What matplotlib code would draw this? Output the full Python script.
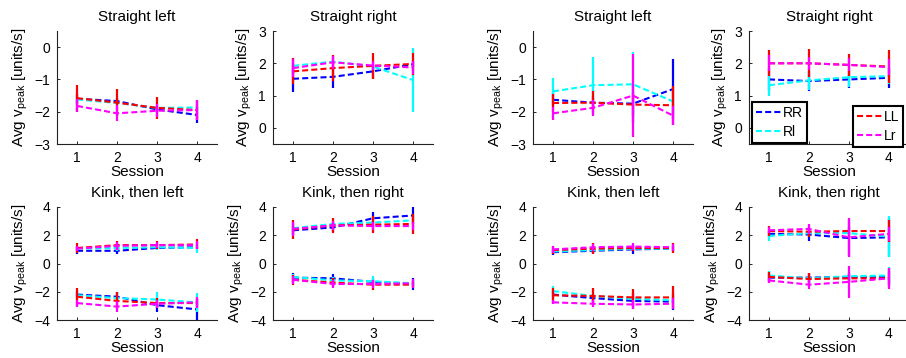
import matplotlib
matplotlib.use("Agg")
import matplotlib.pyplot as plt

plt.rcParams["font.family"] = ["Liberation Sans", "DejaVu Sans"]
plt.rcParams["mathtext.fontset"] = "custom"
plt.rcParams["mathtext.rm"] = "Liberation Sans"
plt.rcParams["mathtext.it"] = "Liberation Sans"

sessions = [1, 2, 3, 4]
series_names = ["RR", "Rl", "LL", "Lr"]
series_colors = ["#0000ff", "#00ffff", "#ff0000", "#ff00ff"]

# ---- group A (left half) ----
a_straight_left_mean = [[-1.60, -1.67, -1.93, -2.10],
                        [-1.62, -1.73, -1.88, -1.87],
                        [-1.58, -1.72, -1.88, -1.95],
                        [-1.82, -2.05, -1.97, -1.95]]
a_straight_left_err = [[0.15, 0.10, 0.10, 0.25],
                       [0.10, 0.10, 0.10, 0.10],
                       [0.42, 0.42, 0.35, 0.30],
                       [0.20, 0.25, 0.20, 0.30]]

a_straight_right_mean = [[1.52, 1.58, 1.75, 1.97],
                         [1.92, 2.05, 1.90, 1.48],
                         [1.75, 1.85, 1.92, 1.98],
                         [1.85, 2.03, 1.93, 1.87]]
a_straight_right_err = [[0.42, 0.36, 0.20, 0.10],
                        [0.25, 0.20, 0.15, 1.00],
                        [0.40, 0.40, 0.40, 0.33],
                        [0.28, 0.20, 0.15, 0.20]]

a_kink_left_up_mean = [[0.90, 0.90, 1.10, 1.15],
                       [1.05, 1.10, 1.15, 1.10],
                       [1.10, 1.30, 1.30, 1.35],
                       [1.05, 1.25, 1.30, 1.30]]
a_kink_left_up_err = [[0.25, 0.25, 0.10, 0.15],
                      [0.20, 0.20, 0.20, 0.35],
                      [0.35, 0.30, 0.30, 0.35],
                      [0.20, 0.30, 0.20, 0.30]]
a_kink_left_low_mean = [[-2.20, -2.35, -2.95, -3.25],
                        [-2.25, -2.45, -2.55, -2.75],
                        [-2.35, -2.65, -2.80, -2.80],
                        [-2.80, -3.05, -2.85, -2.75]]
a_kink_left_low_err = [[0.20, 0.30, 0.50, 0.75],
                       [0.30, 0.40, 0.50, 0.65],
                       [0.65, 0.60, 0.35, 0.30],
                       [0.25, 0.40, 0.30, 0.40]]

a_kink_right_up_mean = [[2.35, 2.55, 3.20, 3.40],
                        [2.50, 2.80, 2.90, 3.05],
                        [2.40, 2.70, 2.75, 2.80],
                        [2.45, 2.70, 2.65, 2.65]]
a_kink_right_up_err = [[0.30, 0.30, 0.45, 0.60],
                       [0.30, 0.25, 0.30, 0.30],
                       [0.65, 0.55, 0.60, 0.70],
                       [0.50, 0.30, 0.30, 0.30]]
a_kink_right_low_mean = [[-1.00, -1.05, -1.30, -1.45],
                         [-0.95, -1.20, -1.25, -1.40],
                         [-1.15, -1.35, -1.50, -1.50],
                         [-1.15, -1.45, -1.45, -1.40]]
a_kink_right_low_err = [[0.30, 0.30, 0.30, 0.40],
                        [0.20, 0.25, 0.35, 0.20],
                        [0.35, 0.30, 0.35, 0.20],
                        [0.30, 0.30, 0.30, 0.30]]

# ---- group B (right half) ----
b_straight_left_mean = [[-1.63, -1.72, -1.75, -1.30],
                        [-1.37, -1.18, -1.15, -1.68],
                        [-1.73, -1.72, -1.78, -1.80],
                        [-2.05, -1.88, -1.50, -2.12]]
b_straight_left_err = [[0.20, 0.20, 0.60, 0.92],
                       [0.42, 0.88, 1.00, 0.40],
                       [0.28, 0.35, 0.35, 0.60],
                       [0.20, 0.25, 1.28, 0.30]]

b_straight_right_mean = [[1.50, 1.45, 1.50, 1.55],
                         [1.32, 1.47, 1.57, 1.60],
                         [2.00, 2.00, 1.95, 1.90],
                         [2.00, 2.00, 1.95, 1.88]]
b_straight_right_err = [[0.35, 0.30, 0.28, 0.30],
                        [0.33, 0.30, 0.30, 0.25],
                        [0.40, 0.43, 0.33, 0.50],
                        [0.25, 0.20, 0.20, 0.25]]

b_kink_left_up_mean = [[0.80, 0.90, 1.00, 1.05],
                       [0.85, 0.95, 1.05, 1.05],
                       [0.95, 1.05, 1.10, 1.10],
                       [1.00, 1.15, 1.20, 1.15]]
b_kink_left_up_err = [[0.20, 0.20, 0.30, 0.20],
                      [0.20, 0.20, 0.20, 0.20],
                      [0.30, 0.40, 0.20, 0.35],
                      [0.25, 0.25, 0.25, 0.25]]
b_kink_left_low_mean = [[-2.20, -2.45, -2.65, -2.70],
                        [-1.95, -2.30, -2.50, -2.60],
                        [-2.25, -2.30, -2.40, -2.40],
                        [-2.75, -2.85, -2.90, -2.85]]
b_kink_left_low_err = [[0.30, 0.30, 0.55, 0.60],
                       [0.35, 0.30, 0.30, 0.30],
                       [0.55, 0.55, 0.60, 0.80],
                       [0.15, 0.25, 0.30, 0.40]]

b_kink_right_up_mean = [[2.10, 2.05, 1.80, 1.85],
                        [1.95, 2.15, 2.15, 1.90],
                        [2.30, 2.25, 2.30, 2.30],
                        [2.35, 2.45, 1.85, 2.10]]
b_kink_right_up_err = [[0.20, 0.45, 1.30, 1.40],
                       [0.35, 0.30, 0.35, 1.45],
                       [0.35, 0.35, 0.30, 0.80],
                       [0.20, 0.35, 1.40, 0.50]]
b_kink_right_low_mean = [[-1.00, -1.00, -0.95, -0.95],
                         [-0.85, -1.05, -0.90, -0.85],
                         [-0.95, -1.10, -1.05, -1.05],
                         [-1.20, -1.50, -1.30, -1.05]]
b_kink_right_low_err = [[0.30, 0.35, 0.30, 0.65],
                        [0.30, 0.30, 0.30, 0.60],
                        [0.35, 0.45, 0.30, 0.50],
                        [0.20, 0.30, 1.15, 0.75]]

titles = ["Straight left", "Straight right", "Kink, then left", "Kink, then right"]
xlabel = "Session"
ylabel = r"Avg v$_{\mathrm{peak}}$ [units/s]"
yticks_left = [-3, -2, -1, 0]
yticks_right = [0, 1, 2, 3]
yticks_kink = [-4, -2, 0, 2, 4]

W, H = 906, 358
fig = plt.figure(figsize=(W / 100, H / 100), dpi=100)

col_left = [57, 273, 533, 749]
row_top = [31, 207]
ax_w, ax_h = 160, 113

DASH = (0, (2.9, 1.5))


def make_axes(col, row):
    l = col_left[col]
    t = row_top[row]
    return fig.add_axes([l / W, 1 - (t + ax_h) / H, ax_w / W, ax_h / H])


def style(ax, title, ylim, yticks):
    ax.set_xlim(0.5, 4.5)
    ax.set_ylim(*ylim)
    ax.set_xticks(sessions)
    ax.set_yticks(yticks)
    ax.spines["top"].set_visible(False)
    ax.spines["right"].set_visible(False)
    for s in ("left", "bottom"):
        ax.spines[s].set_linewidth(0.8)
        ax.spines[s].set_color("#222222")
    ax.tick_params(direction="in", length=2.5, width=0.6, labelsize=10, pad=5)
    ax.set_title(title, fontsize=11, pad=7)
    ax.set_xlabel(xlabel, fontsize=11, labelpad=0)
    ax.set_ylabel(ylabel, fontsize=11, labelpad=3)


def draw_group(ax, means, errs):
    lines = []
    for m, e, c in zip(means, errs, series_colors):
        ax.errorbar(sessions, m, yerr=e, fmt="none", ecolor=c, elinewidth=1.6, capsize=0)
        ln, = ax.plot(sessions, m, color=c, ls=DASH, lw=1.5)
        lines.append(ln)
    return lines


panels = [
    (0, 0, [(a_straight_left_mean, a_straight_left_err)], titles[0], (-3, 0.5), yticks_left),
    (1, 0, [(a_straight_right_mean, a_straight_right_err)], titles[1], (-0.5, 3), yticks_right),
    (2, 0, [(b_straight_left_mean, b_straight_left_err)], titles[0], (-3, 0.5), yticks_left),
    (3, 0, [(b_straight_right_mean, b_straight_right_err)], titles[1], (-0.5, 3), yticks_right),
    (0, 1, [(a_kink_left_up_mean, a_kink_left_up_err),
            (a_kink_left_low_mean, a_kink_left_low_err)], titles[2], (-4, 4), yticks_kink),
    (1, 1, [(a_kink_right_up_mean, a_kink_right_up_err),
            (a_kink_right_low_mean, a_kink_right_low_err)], titles[3], (-4, 4), yticks_kink),
    (2, 1, [(b_kink_left_up_mean, b_kink_left_up_err),
            (b_kink_left_low_mean, b_kink_left_low_err)], titles[2], (-4, 4), yticks_kink),
    (3, 1, [(b_kink_right_up_mean, b_kink_right_up_err),
            (b_kink_right_low_mean, b_kink_right_low_err)], titles[3], (-4, 4), yticks_kink),
]

legend_ax = None
legend_lines = None
for col, row, groups, title, ylim, yt in panels:
    ax = make_axes(col, row)
    for means, errs in groups:
        lines = draw_group(ax, means, errs)
    style(ax, title, ylim, yt)
    if col == 3 and row == 0:
        legend_ax, legend_lines = ax, lines

leg_kw = dict(fontsize=10, frameon=True, fancybox=False, framealpha=1,
              edgecolor="black", handlelength=1.75, handletextpad=0.15,
              borderpad=0.3, labelspacing=0.35, borderaxespad=0)
leg1 = legend_ax.legend(legend_lines[:2], series_names[:2], loc="lower left",
                        bbox_to_anchor=(0.02, 0.01), **leg_kw)
leg1.get_frame().set_linewidth(1.5)
legend_ax.add_artist(leg1)
leg2 = legend_ax.legend(legend_lines[2:], series_names[2:], loc="lower right",
                        bbox_to_anchor=(0.965, -0.025), **leg_kw)
leg2.get_frame().set_linewidth(1.5)

fig.savefig("out.png", dpi=100, facecolor="white")
